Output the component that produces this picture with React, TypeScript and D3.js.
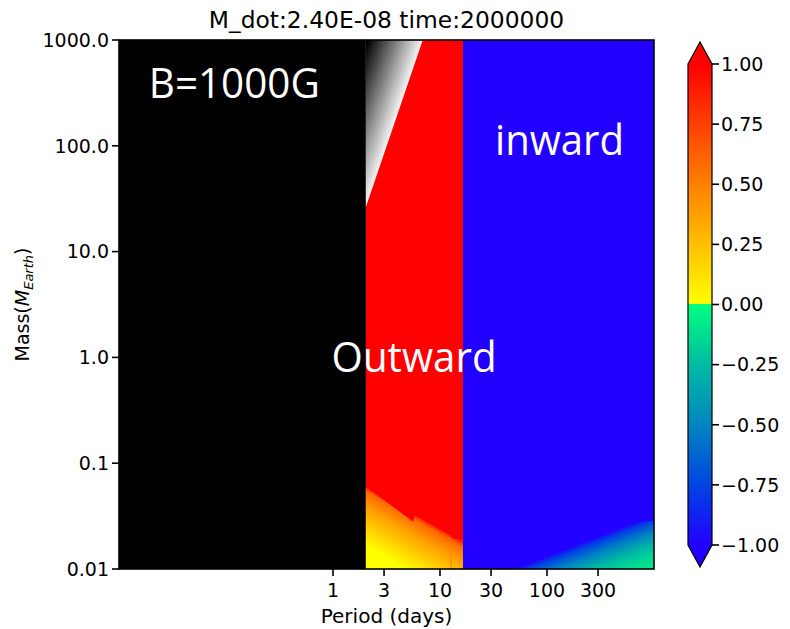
import React from "react";
import * as d3 from "d3";

const titleText = "M_dot:2.40E-08 time:2000000";
const xDomain = [0.01, 1000];
const yDomain = [0.01, 1000];
const xTicks = [1, 3, 10, 30, 100, 300];
const xTickLabels = ["1", "3", "10", "30", "100", "300"];
const yTicks = [1000, 100, 10, 1, 0.1, 0.01];
const yTickLabels = ["1000.0", "100.0", "10.0", "1.0", "0.1", "0.01"];
const cbTicks = [1, 0.75, 0.5, 0.25, 0, -0.25, -0.5, -0.75, -1];
const cbTickLabels = ["1.00", "0.75", "0.50", "0.25", "0.00", "\u22120.25", "\u22120.50", "\u22120.75", "\u22121.00"];

// region boundaries (period in days)
const innerEdgePeriod = 2.03;
const outerEdgePeriod = 16.4;
// grey wedge edge [period, mass]
const greyEdge = [[2.03, 26.4], [6.9, 1000]];
// warm (yellow/orange) upper boundary [period, mass]
const warmEdge = [[2.03, 0.06], [5.62, 0.028], [5.8, 0.0324], [12.4, 0.021], [12.9, 0.0195], [16.4, 0.0188]];
const warmNotch = [12.4, 12.9];
// cool (teal/green) upper boundary [period, mass]
const coolEdge = [[50, 0.0101], [690, 0.028], [1000, 0.0285]];

// colour map stops [value, colour]
const cmapNeg = [[-1, "#2200ff"], [-0.75, "#0045e2"], [-0.5, "#0085c0"], [-0.25, "#00bba2"], [0, "#00ff80"]];
const cmapPos = [[0, "#ffff00"], [0.25, "#ffbf00"], [0.5, "#ff8000"], [0.75, "#ff4000"], [1, "#ff0000"]];
const colRed = "#ff0000";
const colBlue = "#2200ff";

const annotations = [
  { text: "B=1000G", period: 0.019, mass: 283, width: 171 },
  { text: "Outward", period: 0.97, mass: 0.733, width: 165 },
  { text: "inward", period: 32.7, mass: 81.8, width: 129 },
];

export default function App() {
  const L = 119, R = 654, T = 40, B = 569;
  const x = d3.scaleLog().domain(xDomain).range([L, R]);
  const y = d3.scaleLog().domain(yDomain).range([B, T]);
  const cb = d3.scaleLinear().domain([-1, 1]).range([545, 64]);
  const cbL = 688, cbR = 712;

  const px = (p: number[]) => [x(p[0]), y(p[1])];

  // grey wedge
  const g0 = px(greyEdge[0]);
  const g1 = px(greyEdge[1]);
  const greyPoly = [
    [x(innerEdgePeriod), y(greyEdge[0][1])],
    [x(innerEdgePeriod), y(yDomain[1])],
    g1,
    g0,
  ];
  let gdx = g1[0] - g0[0], gdy = g1[1] - g0[1];
  const gl = Math.hypot(gdx, gdy);
  gdx /= gl; gdy /= gl;
  const gn = [gdy, -gdx]; // left normal
  const greyGrad = { x1: g0[0], y1: g0[1], x2: g0[0] + gn[0] * 52, y2: g0[1] + gn[1] * 52 };

  // warm region
  const warmPts = warmEdge.map(px);
  const warmPoly = [
    ...warmPts,
    [x(outerEdgePeriod), y(yDomain[0])],
    [x(innerEdgePeriod), y(yDomain[0])],
  ];
  const w0 = warmPts[0], w3 = warmPts[3];
  let wdx = w3[0] - w0[0], wdy = w3[1] - w0[1];
  const wl = Math.hypot(wdx, wdy);
  wdx /= wl; wdy /= wl;
  const wn = [-wdy, wdx];
  const cornerDist = (x(innerEdgePeriod) - w0[0]) * wn[0] + (y(yDomain[0]) - w0[1]) * wn[1];
  const warmGrad = { x1: w0[0], y1: w0[1], x2: w0[0] + wn[0] * cornerDist, y2: w0[1] + wn[1] * cornerDist };

  // cool region
  const coolPts = coolEdge.map(px);
  const coolPoly = [
    ...coolPts,
    [x(xDomain[1]), y(yDomain[0])],
    [x(coolEdge[0][0]), y(yDomain[0])],
  ];
  const c0 = coolPts[0], c1 = coolPts[1];
  let cdx = c1[0] - c0[0], cdy = c1[1] - c0[1];
  const cl = Math.hypot(cdx, cdy);
  cdx /= cl; cdy /= cl;
  const cn = [-cdy, cdx];
  const cdist = (x(xDomain[1]) - c0[0]) * cn[0] + (y(yDomain[0]) - c0[1]) * cn[1];
  const coolGrad = { x1: c0[0], y1: c0[1], x2: c0[0] + cn[0] * cdist, y2: c0[1] + cn[1] * cdist };

  const line = d3.line();
  const font = "DejaVu Sans, sans-serif";

  // colorbar gradient stops: top = 1, bottom = -1
  const cbStops = [...cmapPos.slice().reverse(), ...cmapNeg.slice().reverse()].map(([v, c]) => ({
    offset: (1 - (v as number)) / 2,
    color: c as string,
  }));

  const cbTop = cb(1), cbBot = cb(-1);
  const cbOutline = [
    [cbL, cbTop], [(cbL + cbR) / 2, cbTop - 22], [cbR, cbTop],
    [cbR, cbBot], [(cbL + cbR) / 2, cbBot + 22], [cbL, cbBot],
  ];

  return (
    <svg width={790} height={629} style={{ position: "absolute", left: 0, top: 0, background: "#fff" }}>
      <defs>
        <linearGradient id="greyG" gradientUnits="userSpaceOnUse" {...greyGrad}>
          <stop offset={0} stopColor="#f4f4f4" />
          <stop offset={1} stopColor="#000000" />
        </linearGradient>
        <linearGradient id="warmG" gradientUnits="userSpaceOnUse" {...warmGrad}>
          <stop offset={0} stopColor="#ff2000" />
          <stop offset={0.06} stopColor="#ff6800" />
          <stop offset={0.25} stopColor="#ffa000" />
          <stop offset={0.5} stopColor="#ffd400" />
          <stop offset={0.72} stopColor="#ffff00" />
          <stop offset={1} stopColor="#ffff00" />
        </linearGradient>
        <linearGradient id="coolG" gradientUnits="userSpaceOnUse" {...coolGrad}>
          <stop offset={0} stopColor={colBlue} />
          <stop offset={0.1} stopColor="#0040e4" />
          <stop offset={0.3} stopColor="#0080c4" />
          <stop offset={0.55} stopColor="#00b8a4" />
          <stop offset={0.8} stopColor="#00dc92" />
          <stop offset={1} stopColor="#00e88c" />
        </linearGradient>
        <linearGradient id="cbG" x1="0" y1="0" x2="0" y2="1">
          {cbStops.map((s, i) => (
            <stop key={i} offset={s.offset} stopColor={s.color} />
          ))}
        </linearGradient>
      </defs>

      {/* background regions */}
      <rect x={L} y={T} width={x(innerEdgePeriod) - L} height={B - T} fill="#000" />
      <rect x={x(innerEdgePeriod)} y={T} width={x(outerEdgePeriod) - x(innerEdgePeriod)} height={B - T} fill={colRed} />
      <rect x={x(outerEdgePeriod)} y={T} width={R - x(outerEdgePeriod)} height={B - T} fill={colBlue} />
      <path d={line(greyPoly as any) + "Z"} fill="url(#greyG)" />
      <path d={line(warmPoly as any) + "Z"} fill="url(#warmG)" />
      <rect x={x(warmNotch[0])} y={y(warmEdge[4][1])} width={x(warmNotch[1]) - x(warmNotch[0])} height={B - y(warmEdge[4][1])} fill="#ff8000" opacity={0.6} />
      <path d={line(coolPoly as any) + "Z"} fill="url(#coolG)" />

      {/* annotations */}
      {annotations.map((a, i) => (
        <text key={i} x={x(a.period)} y={y(a.mass)} fill="#fff" fontFamily="Open Sans, sans-serif" fontSize={42}
          textLength={a.width} lengthAdjust="spacingAndGlyphs">{a.text}</text>
      ))}

      {/* spines */}
      <rect x={L} y={T} width={R - L} height={B - T} fill="none" stroke="#000" strokeWidth={1.6} />

      {/* y ticks */}
      {yTicks.map((t, i) => (
        <g key={i}>
          <line x1={L - 7} x2={L} y1={y(t)} y2={y(t)} stroke="#000" strokeWidth={1.6} />
          <text x={L - 10} y={y(t)} dy="0.36em" textAnchor="end" fontFamily={font} fontSize={19}>{yTickLabels[i]}</text>
        </g>
      ))}
      {/* x ticks */}
      {xTicks.map((t, i) => (
        <g key={i}>
          <line x1={x(t)} x2={x(t)} y1={B} y2={B + 7} stroke="#000" strokeWidth={1.6} />
          <text x={x(t)} y={B + 28} textAnchor="middle" fontFamily={font} fontSize={19}>{xTickLabels[i]}</text>
        </g>
      ))}
      <text x={(L + R) / 2} y={623} textAnchor="middle" fontFamily={font} fontSize={20}>Period (days)</text>
      <text transform={`translate(29,${(T + B) / 2}) rotate(-90)`} textAnchor="middle" fontFamily={font} fontSize={19}>
        Mass(<tspan fontStyle="italic">M</tspan><tspan fontStyle="italic" fontSize={13} dy={4}>Earth</tspan><tspan dy={-4}>)</tspan>
      </text>
      <text x={(L + R) / 2} y={28} textAnchor="middle" fontFamily={font} fontSize={23.4}>{titleText}</text>

      {/* colorbar */}
      <rect x={cbL} y={cbTop} width={cbR - cbL} height={cbBot - cbTop} fill="url(#cbG)" />
      <path d={`M${cbL},${cbTop}L${(cbL + cbR) / 2},${cbTop - 22}L${cbR},${cbTop}Z`} fill={colRed} />
      <path d={`M${cbL},${cbBot}L${(cbL + cbR) / 2},${cbBot + 22}L${cbR},${cbBot}Z`} fill={colBlue} />
      <path d={line(cbOutline as any) + "Z"} fill="none" stroke="#000" strokeWidth={1.2} />
      {cbTicks.map((t, i) => (
        <g key={i}>
          <line x1={cbR} x2={cbR + 7} y1={cb(t)} y2={cb(t)} stroke="#000" strokeWidth={1.6} />
          <text x={cbR + 9} y={cb(t)} dy="0.36em" fontFamily={font} fontSize={19}>{cbTickLabels[i]}</text>
        </g>
      ))}
    </svg>
  );
}
